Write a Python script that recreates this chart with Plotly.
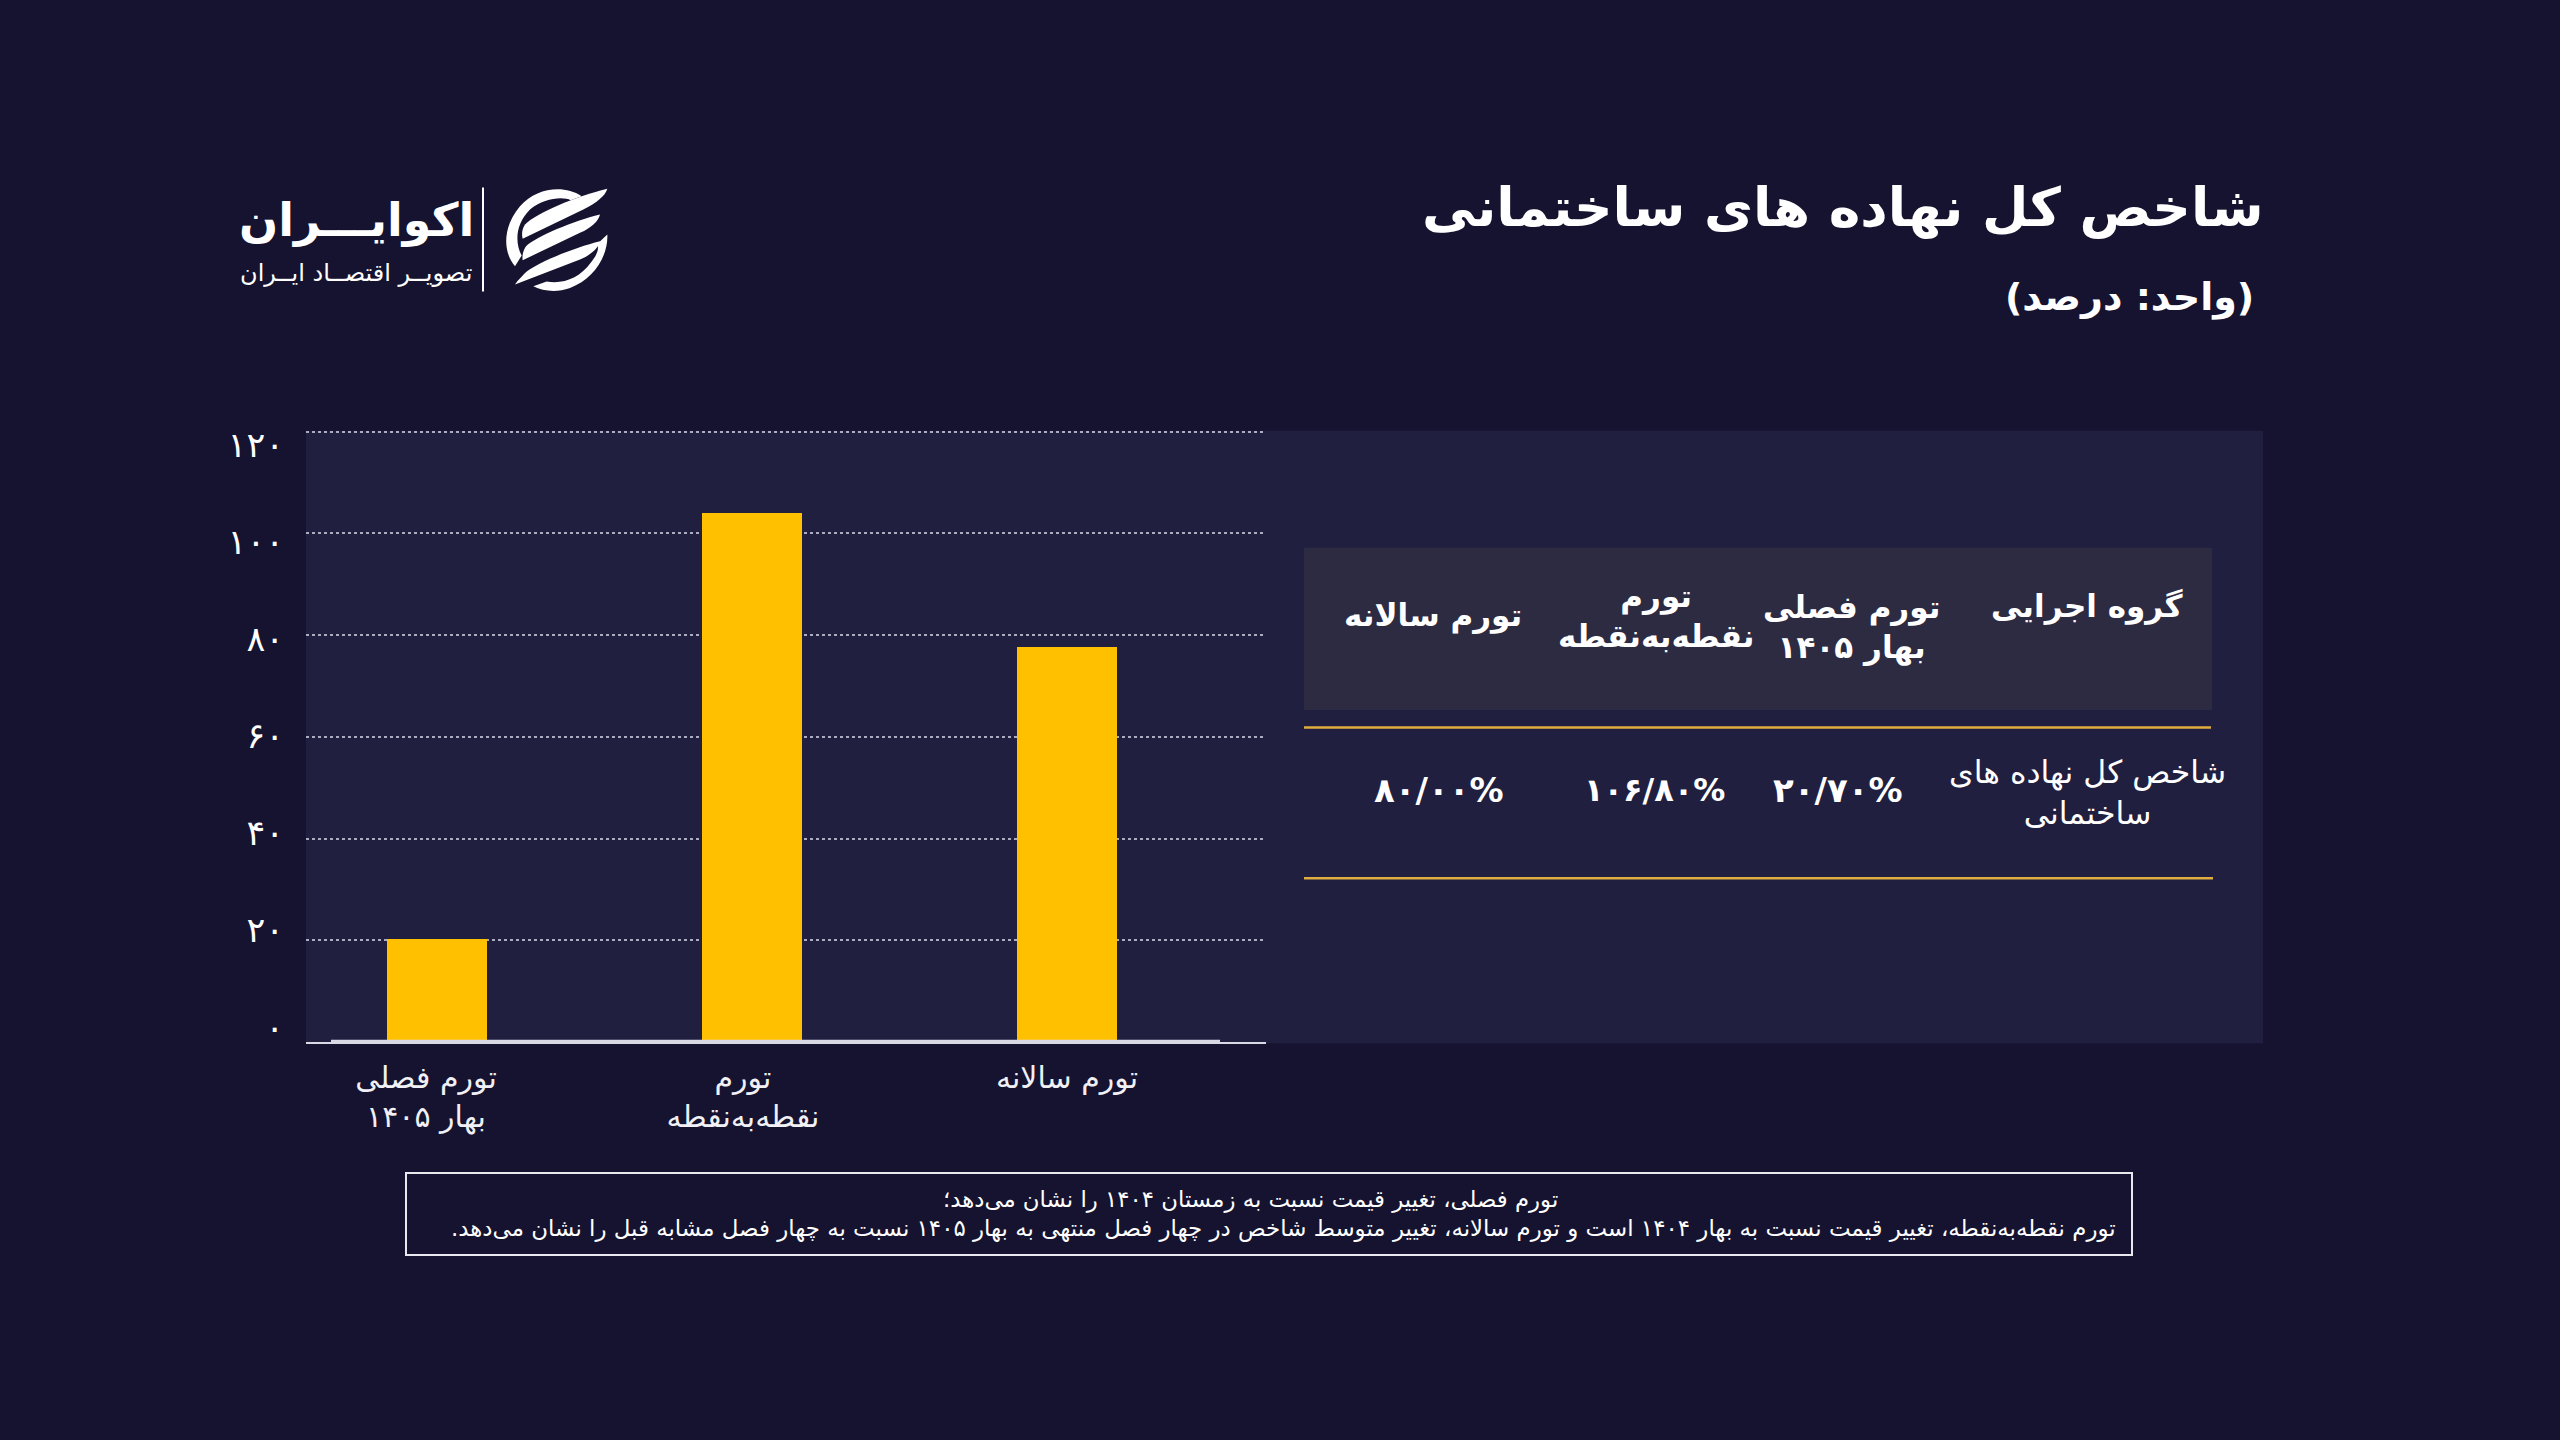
import plotly.graph_objects as go

W, H = 2560, 1440
RLM = "\u200f"

categories = ["تورم فصلی<br>بهار ۱۴۰۵", "تورم<br>نقطه‌به‌نقطه", "تورم سالانه"]
values = [20.4, 104.0, 77.7]
grid_values = [0, 20, 40, 60, 80, 100, 120]
tick_labels = ["۰", "۲۰", "۴۰", "۶۰", "۸۰", "۱۰۰", "۱۲۰"]
label_nudge = [-11 / 315, -9 / 315, 0]

title_text = "شاخص کل نهاده های ساختمانی"
subtitle_text = "(واحد: درصد)"
table_headers = ["گروه اجرایی", "تورم فصلی<br>بهار ۱۴۰۵", "تورم<br>نقطه‌به‌نقطه", "تورم سالانه"]
table_row = ["شاخص کل نهاده های<br>ساختمانی", "۲۰/۷۰%", "۱۰۶/۸۰%", "۸۰/۰۰%"]
note_lines = [
    "تورم فصلی، تغییر قیمت نسبت به زمستان ۱۴۰۴ را نشان می‌دهد؛",
    "تورم نقطه‌به‌نقطه، تغییر قیمت نسبت به بهار ۱۴۰۴ است و تورم سالانه، تغییر متوسط شاخص در چهار فصل منتهی به بهار ۱۴۰۵ نسبت به چهار فصل مشابه قبل را نشان می‌دهد.",
]
brand_name = "اکوایـــران"
brand_tag = "تصویــر اقتصــاد ایــران"

BG = "#15132f"
PANEL = "#211f40"
BAND = "#2c2b42"
GOLD = "#e0ae3e"
YELLOW = "#ffc000"
FONT = "DejaVu Sans"


def px(x):
    return x / W


def py(y):
    return 1 - y / H


def sy(y):
    # fine vertical calibration of boxes, rules and axis domains against the reference
    return py(720 + (y - 720) * 1.008)


def rtl(t):
    return "<br>".join(RLM + s + RLM for s in t.split("<br>"))


def label(x, y, text, size, bold=False, anchor="center", color="white"):
    t = rtl(text)
    if bold:
        t = "<br>".join("<b>" + s + "</b>" for s in t.split("<br>"))
    return dict(x=px(x), y=py(y), xref="paper", yref="paper", text=t, showarrow=False,
                xanchor=anchor, yanchor="middle", align="center",
                font=dict(family=FONT, size=size, color=color))


def box(x0, y0, x1, y1, **kw):
    return dict(type="rect", xref="paper", yref="paper", x0=px(x0), x1=px(x1), y0=sy(y0), y1=sy(y1), **kw)


def hline(x0, x1, y, color, width):
    return dict(type="line", xref="paper", yref="paper", x0=px(x0), x1=px(x1), y0=sy(y), y1=sy(y),
                line=dict(color=color, width=width))


def logo_path(d):
    # d is written in 3x zoom coordinates of the logo crop
    out, tok = [], d.split()
    i = 0
    while i < len(tok):
        if tok[i].isalpha():
            out.append(tok[i]); i += 1
        else:
            xv = (200 + float(tok[i]) / 3) / W
            yv = sy(150 + float(tok[i + 1]) / 3)
            out.append(f"{xv:.5f},{yv:.5f}"); i += 2
    return dict(type="path", xref="paper", yref="paper", path=" ".join(out),
                fillcolor="white", line=dict(width=0), layer="above")


fig = go.Figure()
fig.add_bar(x=categories, y=values, width=100 / 315, marker=dict(color=YELLOW, line=dict(width=0)),
            hoverinfo="skip")
# Second value axis carries the labels: they sit on a slightly tighter spacing than the grid.
fig.add_scatter(x=categories[:1] * len(grid_values), y=grid_values, yaxis="y2", mode="markers",
                marker=dict(opacity=0), hoverinfo="skip", showlegend=False)

shapes = [
    box(306, 431, 2263, 1043, fillcolor=PANEL, line=dict(width=0), layer="below"),
    box(1304, 548, 2212, 710, fillcolor=BAND, line=dict(width=0), layer="below"),
    hline(1304, 2211, 727.5, GOLD, 2.5),
    hline(1304, 2213, 878, GOLD, 2.5),
    hline(331, 1220, 1041, "#d9d9e6", 3),
    box(406, 1172.5, 2132, 1254.5, line=dict(color="#e8e8ee", width=2)),
    dict(type="line", xref="paper", yref="paper", x0=px(483), x1=px(483), y0=sy(188), y1=sy(292),
         line=dict(color="white", width=2)),
    logo_path("M 1145 140 C 1090 105 1010 115 960 170 C 905 235 910 310 945 350 L 965 318 C 945 280 945 225 990 180 C 1030 145 1090 140 1112 152 Z"),
    logo_path("M 1222 118 C 1130 140 1010 190 975 225 C 965 240 965 255 968 268 L 1150 180 C 1190 160 1215 140 1222 118 Z"),
    logo_path("M 1200 195 C 1120 215 1010 260 978 290 C 968 305 966 320 968 332 L 1140 250 C 1175 235 1195 215 1200 195 Z"),
    logo_path("M 1200 275 C 1120 295 1010 340 975 370 C 962 385 950 395 945 405 L 1140 330 C 1175 315 1195 295 1200 275 Z"),
    logo_path("M 1222 255 C 1225 320 1180 390 1110 415 C 1070 430 1030 425 1000 410 L 1040 396 C 1090 405 1140 385 1172 340 C 1190 318 1200 295 1190 285 Z"),
]

ann = [
    label(1843, 204, title_text, 53.5, bold=True),
    label(2129, 295, subtitle_text, 38, bold=True),
    label(356, 217, brand_name, 46, bold=True),
    label(356, 270, brand_tag, 24),
    label(2087, 606, table_headers[0], 31, bold=True),
    label(1851, 627, table_headers[1], 31, bold=True),
    label(1656, 615, table_headers[2], 31, bold=True),
    label(1433, 615, table_headers[3], 31, bold=True),
    label(2087, 793, table_row[0], 31.5),
    label(1838, 790, table_row[1], 34, bold=True),
    label(1654, 790, table_row[2], 32, bold=True),
    label(1439, 790, table_row[3], 34, bold=True),
    label(1250, 1203, note_lines[0], 22.8),
    label(1283, 1232, note_lines[1], 22.9),
]

fig.update_layout(
    width=W, height=H, autosize=False, margin=dict(l=0, r=0, t=0, b=0, pad=0),
    paper_bgcolor=BG, plot_bgcolor="rgba(0,0,0,0)", showlegend=False, bargap=0,
    font=dict(family=FONT, color="white"),
    shapes=shapes, annotations=ann,
    xaxis=dict(domain=[px(306), px(1266)], type="category", range=[-131 / 315, 829 / 315],
               tickmode="array", tickvals=[i + label_nudge[i] for i in range(len(categories))],
               ticktext=[rtl(c) for c in categories], tickfont=dict(size=30, color="#f0f0f5"),
               ticks="", ticklabelstandoff=8, showgrid=False, showline=True, linecolor="#d9d9e6",
               linewidth=2, zeroline=False, fixedrange=True),
    yaxis=dict(domain=[sy(1041.8), sy(430)], range=[0, 120.4], tickmode="array", tickvals=grid_values,
               showticklabels=False, ticks="", showgrid=True, gridcolor="#acacc0", griddash="dot",
               gridwidth=1.5, zeroline=False, showline=False, fixedrange=True),
    yaxis2=dict(domain=[sy(1041.8), sy(430)], overlaying="y", side="left", range=[-3.05, 123.1],
                tickmode="array", tickvals=grid_values, ticktext=tick_labels,
                tickfont=dict(size=35, color="white"), ticks="", ticklabelstandoff=21,
                showgrid=False, zeroline=False, showline=False, fixedrange=True),
)

fig.write_html("out.html", config={"displayModeBar": False},
               post_script="document.body.style.margin='0';document.body.style.background='%s';" % BG)
